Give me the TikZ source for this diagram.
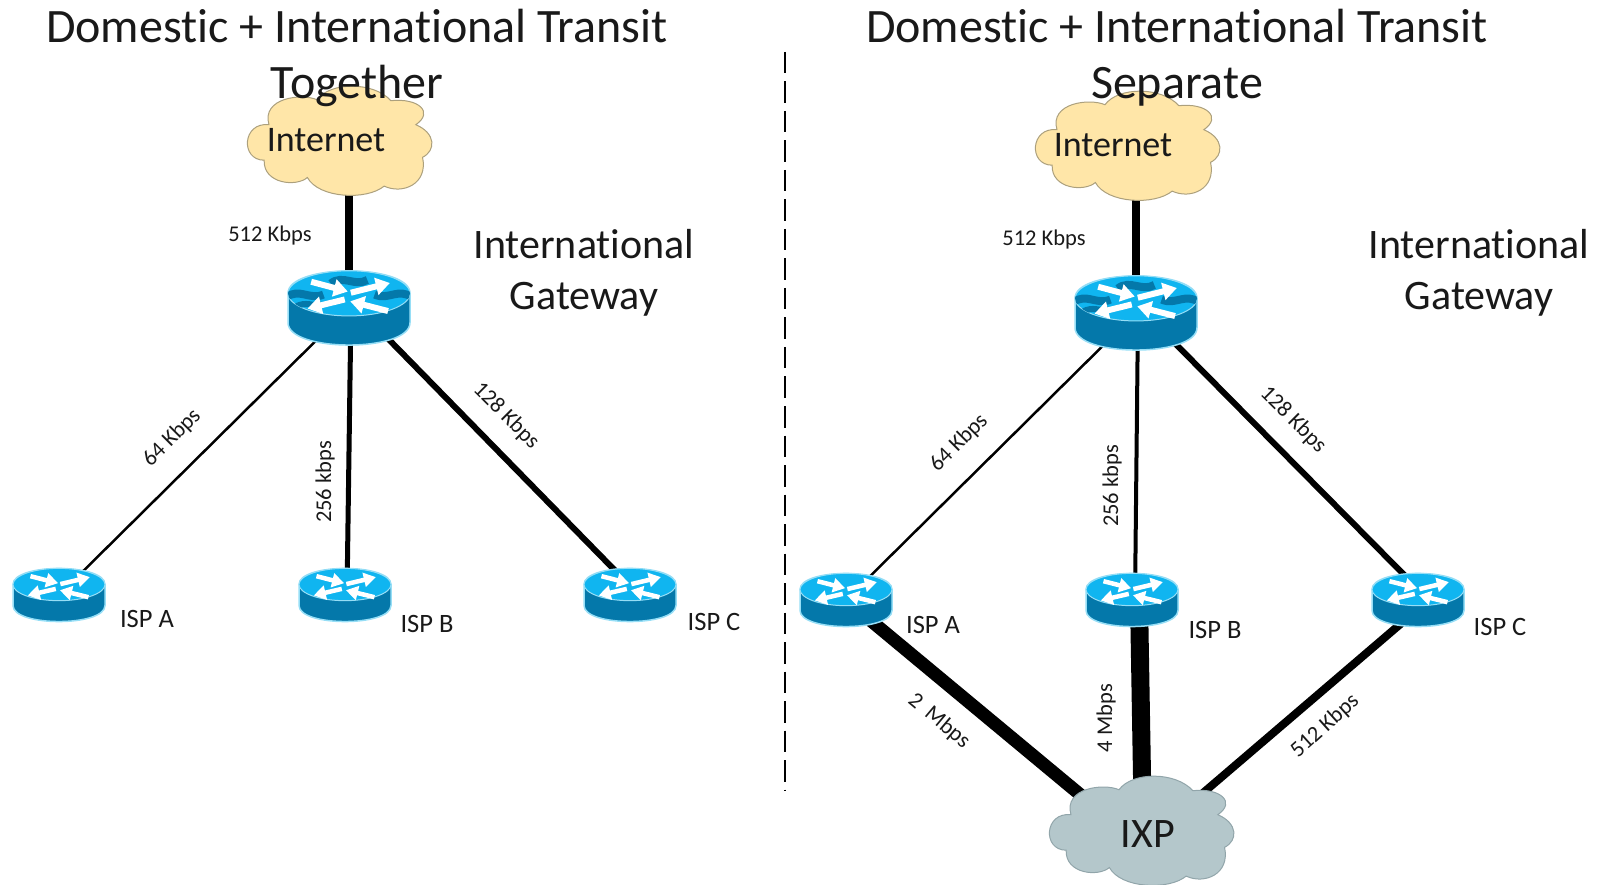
\documentclass[tikz,border=0pt]{standalone}
\usepackage{fontspec}
\setmainfont[Ligatures=CommonOff]{Carlito}
\usetikzlibrary{arrows.meta, positioning, calc, backgrounds}
\definecolor{colCloud}{RGB}{255, 230, 168}
\definecolor{colCloudLine}{RGB}{172, 160, 125}
\definecolor{colIxp}{RGB}{180, 199, 203}
\definecolor{colIxpLine}{RGB}{145, 165, 170}
\definecolor{colTop}{RGB}{16, 181, 240}
\definecolor{colSide}{RGB}{4, 120, 170}
\definecolor{colEdge}{RGB}{150, 222, 246}

\newcommand{\cloudoutline}{
    (-74,-17) .. controls (-102,-20) and (-104,20) .. (-79,20)
    .. controls (-80,45) and (-45,48) .. (-34,38)
    .. controls (-22,60) and (28,62) .. (46,47)
    .. controls (65,56) and (92,45) .. (86,17)
    .. controls (100,10) and (100,-8) .. (79,-17)
    .. controls (98,-30) and (82,-45) .. (53,-42)
    .. controls (35,-62) and (-10,-62) .. (-24,-43)
    .. controls (-40,-50) and (-82,-45) .. (-74,-17) -- cycle
}
\newcommand{\routerbody}{
    \path[fill=colSide, draw=colEdge, line width=1.5pt]
        (-1,-.24) -- (-1,.24) .. controls (-1,.73) and (1,.73) .. (1,.24) -- (1,-.24)
        .. controls (1,-.73) and (-1,-.73) .. (-1,-.24) -- cycle;
    \path[fill=colTop, draw=colEdge, line width=1pt] (0,-.24) ellipse [x radius=1, y radius=.37];
}
\newcommand{\routerarrows}[1]{
    % Two in, two out
    \draw[#1] (-.62,-.43) -- (-.02,-.27);
    \draw[#1] (.03,-.25) -- (.67,-.41);
    \draw[#1] (-.07,-.14) -- (-.68,.01);
    \draw[#1] (.64,.05) -- (.02,-.11);
}
\tikzset{
    bigarrow/.style={white, line width=6pt, -{Triangle[width=17pt, length=14pt]}},
    smallarrow/.style={white, line width=4.5pt, -{Triangle[width=14pt, length=12pt]}},
    pics/bigrouter/.style={code={
        \begin{scope}[scale=61]
            \routerbody
            \begin{scope}
                \clip (0,-.24) ellipse [x radius=1, y radius=.37];
                \draw[colSide, line width=8pt] (-1.05,-.17) .. controls (-.8,-.34) and (-.65,-.12) .. (-.42,-.22);
                \draw[colSide, line width=8pt] (.42,-.22) .. controls (.65,-.12) and (.8,-.34) .. (1.05,-.17);
                \draw[colSide, line width=8pt] (-.3,-.40) .. controls (-.1,-.56) and (.1,-.34) .. (.3,-.46);
                \draw[colSide, line width=6pt] (-.88,-.02) .. controls (-.7,-.12) and (-.6,-.02) .. (-.45,-.06);
            \end{scope}
            \routerarrows{bigarrow}
        \end{scope}
    }},
    pics/smallrouter/.style={code={
        \begin{scope}[scale=46, yscale=.95]
            \routerbody
            \routerarrows{smallarrow}
        \end{scope}
    }},
    pics/netcloud/.style={code={
        \path[fill=#1, draw=#1Line, line width=1pt, scale=.96] \cloudoutline;
    }},
    anchorbox/.style={inner sep=0pt, minimum size=2pt},
    speedlabel/.style={font=\fontsize{22.5}{26}\selectfont, text=black!90},
    isplabel/.style={font=\fontsize{26.5}{30}\selectfont, text=black!90},
    headlabel/.style={font=\fontsize{48}{56}\selectfont, align=center, text=black!90},
    gatelabel/.style={font=\fontsize{42}{51}\selectfont, align=center, text=black!90},
    cloudlabel/.style={font=\fontsize{36}{42}\selectfont, text=black!90}
}

\begin{document}
\begin{tikzpicture}[x=1pt, y=-1pt]
    \useasboundingbox (0,0) rectangle (1599,885);

    % --- Routers ---
    \node[anchorbox] (gwL) at (349,308) {};
    \node[anchorbox] (gwR) at (1136,313) {};
    \pic at (gwL) {bigrouter};
    \pic at (gwR) {bigrouter};
    \foreach \nm/\x/\y/\lab/\lx/\ly in {
        ispAL/59/595/ISP A/147/619, ispBL/345/595/ISP B/427/624, ispCL/630/595/ISP C/714/622,
        ispAR/846/600/ISP A/933/625, ispBR/1132/600/ISP B/1215/630, ispCR/1418/600/ISP C/1500/627} {
        \node[anchorbox] (\nm) at (\x,\y) {};
        \pic at (\nm) {smallrouter};
        \node[isplabel] (\nm text) at (\lx,\ly) {\lab};
    }

    % --- Clouds ---
    \pic at (340,141) {netcloud=colCloud};
    \pic at (1128,146) {netcloud=colCloud};
    \pic at (1142,831) {netcloud=colIxp};
    \node[cloudlabel] (inetL) at (326,140) {Internet};
    \node[cloudlabel] (inetR) at (1113,145) {Internet};
    \node[font=\fontsize{42}{50}\selectfont, text=black!90] (ixp) at (1148,834) {IXP};

    % --- Links, behind routers and clouds ---
    \begin{scope}[on background layer]
        \draw[line width=8pt] (gwL) -- (gwL |- inetL);
        \draw[line width=2.5pt] (gwL) -- (ispAL);
        \draw[line width=5pt] ([xshift=2pt]gwL.center) -- ([xshift=2pt]ispBL.center);
        \draw[line width=6pt] ([xshift=9pt]gwL.center) -- ([xshift=9pt]ispCL.center);

        \draw[line width=8pt] (gwR) -- (gwR |- inetR);
        \draw[line width=2.5pt] (gwR) -- (ispAR);
        \draw[line width=4pt] ([xshift=2pt]gwR.center) -- ([xshift=3pt]ispBR.center);
        \draw[line width=6pt] ([xshift=9pt]gwR.center) -- ([xshift=11pt]ispCR.center);

        \draw[line width=13pt] (ispAR) -- ([yshift=-17pt]ixp.center);
        \draw[line width=18pt] ([xshift=7pt]ispBR.center) -- ([xshift=-5pt]ixp.center);
        \draw[line width=8pt] ([yshift=-9pt]ispCR.center) -- ([yshift=-6pt]ixp.center);
    \end{scope}

    % --- Separator ---
    \coordinate (sepTop) at (785,52);
    \coordinate (sepBot) at (785,790);
    \draw[line width=2.5pt, dash pattern=on 21.5pt off 8pt] (sepTop) -- (sepBot);

    % --- Speeds ---
    \node[speedlabel] (upL) at (270,236) {512 Kbps};
    \node[speedlabel, rotate=45] (aL) at (172,438) {64 Kbps};
    \node[speedlabel, rotate=90] (bL) at (325,482) {256 kbps};
    \node[speedlabel, rotate=-45] (cL) at (506,416) {128 Kbps};
    \node[speedlabel] (upR) at (1044,240) {512 Kbps};
    \node[speedlabel, rotate=45] (aR) at (959,443) {64 Kbps};
    \node[speedlabel, rotate=90] (bR) at (1112,486) {256 kbps};
    \node[speedlabel, rotate=-45] (cR) at (1293,420) {128 Kbps};
    \node[speedlabel, rotate=-40] (ixpA) at (939,721) {2\ \ Mbps};
    \node[speedlabel, rotate=90] (ixpB) at (1106,718) {4 Mbps};
    \node[speedlabel, rotate=42] (ixpC) at (1325,726) {512 Kbps};

    % --- Titles ---
    \node[headlabel] (titleL) at (357,58) {Domestic + International Transit\\Together};
    \node[headlabel] (titleR) at (1177,58) {Domestic + International Transit\\Separate};
    \node[gatelabel] (gateL) at (584,273) {International\\Gateway};
    \node[gatelabel] (gateR) at (1479,273) {International\\Gateway};
\end{tikzpicture}
\end{document}
